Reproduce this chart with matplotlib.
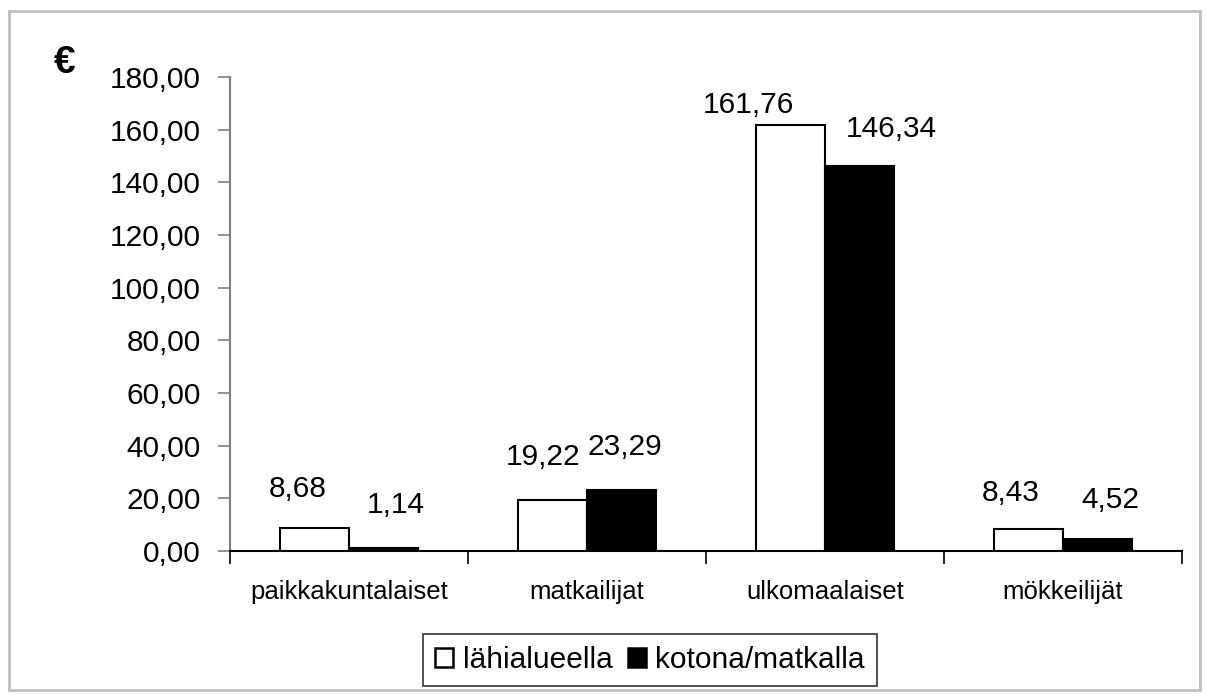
import matplotlib
matplotlib.use("Agg")
import matplotlib.pyplot as plt
from matplotlib.patches import Rectangle, Patch
import numpy as np

categories = ["paikkakuntalaiset", "matkailijat", "ulkomaalaiset", "mökkeilijät"]
series_names = ["lähialueella", "kotona/matkalla"]
lahialueella = [8.68, 19.22, 161.76, 8.43]
kotona_matkalla = [1.14, 23.29, 146.34, 4.52]
yticks = [0, 20, 40, 60, 80, 100, 120, 140, 160, 180]

# label offsets (pixels) relative to bar top-centre: (dx, gap to text bottom)
lab_dx = [[-17, -9, -42, -18], [12, 3, 32, 13]]
lab_gap = [[25, 29, 6, 22], [29, 29, 23, 25]]

plt.rcParams['font.family'] = ['Liberation Sans', 'DejaVu Sans']

W, H = 1208, 697
fig = plt.figure(figsize=(W / 100, H / 100), dpi=100)
fig.patch.set_facecolor('white')
fig.add_artist(Rectangle((9 / W, 1 - 690 / H), 1191 / W, 679 / H, transform=fig.transFigure,
                         fill=False, edgecolor='#c0c0c0', linewidth=2))

ax = fig.add_axes([230 / W, 1 - 551 / H, 952 / W, 474 / H])
x = np.arange(len(categories))
bw = 0.29
b1 = ax.bar(x - bw / 2, lahialueella, bw, color='white', edgecolor='black', linewidth=1.5, zorder=3)
b2 = ax.bar(x + bw / 2, kotona_matkalla, bw, color='black', edgecolor='black', linewidth=1.5, zorder=3)

ax.set_xlim(-0.5, len(categories) - 0.5)
ax.set_ylim(0, 180)
ax.set_yticks(yticks)
ax.set_yticklabels([f"{v:.2f}".replace('.', ',') for v in yticks], fontsize=21.5)
ax.set_xticks(x)
ax.set_xticklabels(categories, fontsize=18.5)
ax.set_xticks(np.arange(-0.5, len(categories)), minor=True)
ax.tick_params(axis='x', which='major', length=0, pad=21)
ax.tick_params(axis='x', which='minor', length=9, width=1.2, color='black', direction='out')
ax.tick_params(axis='y', length=9, width=1.2, color='#808080', pad=12, direction='out')

for s in ['top', 'right']:
    ax.spines[s].set_visible(False)
ax.spines['left'].set_color('#808080')
ax.spines['left'].set_linewidth(1.5)
ax.spines['bottom'].set_color('black')
ax.spines['bottom'].set_linewidth(1.5)

for si, (bars, vals) in enumerate([(b1, lahialueella), (b2, kotona_matkalla)]):
    for i, (bar, v) in enumerate(zip(bars, vals)):
        ax.annotate(f"{v:.2f}".replace('.', ','),
                    xy=(bar.get_x() + bar.get_width() / 2, v),
                    xytext=(lab_dx[si][i] * 0.72, lab_gap[si][i] * 0.72),
                    textcoords='offset points', ha='center', va='bottom', fontsize=21.5)

fig.text(65 / W, 1 - 63 / H, "€", fontsize=28, fontweight='bold', ha='center', va='center')

handles = [Patch(facecolor='white', edgecolor='black', linewidth=1.8),
           Patch(facecolor='black', edgecolor='black', linewidth=1.8)]
leg = fig.legend(handles, series_names, loc='center', bbox_to_anchor=(650 / W, 1 - 660 / H),
                 ncol=2, fontsize=21.5, frameon=True, fancybox=False, handlelength=0.6,
                 handleheight=0.6, handletextpad=0.33, columnspacing=0.5, borderpad=0.4,
                 borderaxespad=0)
leg.get_frame().set_edgecolor('black')
leg.get_frame().set_linewidth(1.2)

fig.savefig("out.png", dpi=100)
